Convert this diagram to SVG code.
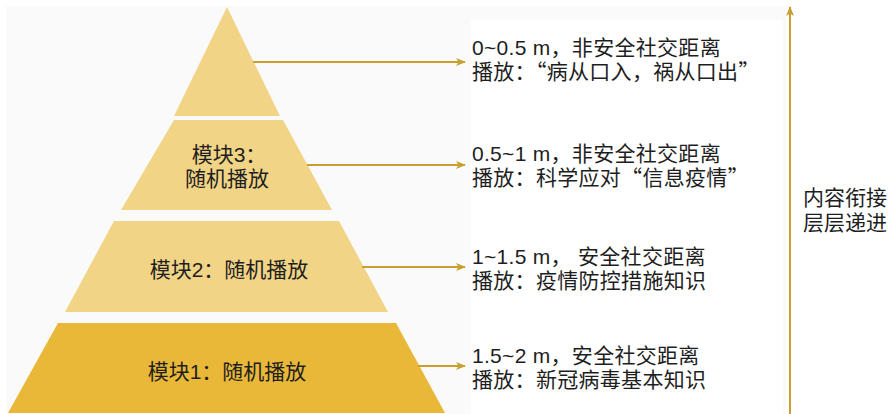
<svg xmlns="http://www.w3.org/2000/svg" width="890" height="414" viewBox="0 0 890 414">
  <style>
    .t { font-family: "Liberation Sans", "Noto Sans CJK SC", sans-serif; fill: #1e1e1e; }
    .lbl { font-size: 21px; letter-spacing: 0.3px; }
    .q { font-family: "Noto Sans CJK SC", sans-serif; }
    .side { font-size: 21px; }
    .pl { font-size: 21px; text-anchor: middle; }
    .light { fill: #F1D486; }
    .dark { fill: #E9B838; }
    .conn { stroke: #C9A030; stroke-width: 2; fill: none; }
  </style>
  <defs>
    <marker id="ah" viewBox="0 0 10 10" refX="9" refY="5" markerWidth="10" markerHeight="10" markerUnits="userSpaceOnUse" orient="auto">
      <path d="M0,1 L10,5 L0,9 L2.5,5 Z" fill="#C9A030"/>
    </marker>
  </defs>
  <rect x="0" y="0" width="890" height="414" fill="#ffffff"/>
  <rect x="6" y="6" width="780" height="408" fill="#fafafa"/>
  <rect x="471" y="20" width="312" height="394" fill="#ffffff"/>

  <g id="tier4">
    <polygon class="light" points="227,7 280,116 174,116"/>
  </g>
  <g id="tier3">
    <polygon class="light" points="174,120 283,120 332,210 121,210"/>
    <text class="t pl" x="229" y="162">模块3：</text>
    <text class="t pl" x="227" y="186">随机播放</text>
  </g>
  <g id="tier2">
    <polygon class="light" points="114,221 339,221 388,312 65,312"/>
    <text class="t pl" x="229" y="277">模块2：随机播放</text>
  </g>
  <g id="tier1">
    <polygon class="dark" points="58,323 396,323 445,413 8,413"/>
    <text class="t pl" x="227" y="379">模块1：随机播放</text>
  </g>

  <g id="connectors">
    <line class="conn" x1="253" y1="62" x2="465" y2="62" marker-end="url(#ah)"/>
    <line class="conn" x1="307" y1="165" x2="465" y2="165" marker-end="url(#ah)"/>
    <line class="conn" x1="362" y1="267" x2="465" y2="267" marker-end="url(#ah)"/>
    <line class="conn" x1="418" y1="366" x2="465" y2="366" marker-end="url(#ah)"/>
    <line class="conn" x1="790" y1="414" x2="790" y2="7" marker-end="url(#ah)"/>
  </g>

  <g id="desc4">
    <text class="t lbl" x="472" y="55">0~0.5 m，非安全社交距离</text>
    <text class="t lbl" x="472" y="79">播放：<tspan class="q">“</tspan>病从口入，祸从口出<tspan class="q">”</tspan></text>
  </g>
  <g id="desc3">
    <text class="t lbl" x="472" y="161">0.5~1 m，非安全社交距离</text>
    <text class="t lbl" x="472" y="185">播放：科学应对<tspan class="q">“</tspan>信息疫情<tspan class="q">”</tspan></text>
  </g>
  <g id="desc2">
    <text class="t lbl" x="472" y="264">1~1.5 m， 安全社交距离</text>
    <text class="t lbl" x="472" y="288">播放：疫情防控措施知识</text>
  </g>
  <g id="desc1">
    <text class="t lbl" x="472" y="363">1.5~2 m，安全社交距离</text>
    <text class="t lbl" x="472" y="387">播放：新冠病毒基本知识</text>
  </g>
  <g id="side">
    <text class="t side" x="803" y="205">内容衔接</text>
    <text class="t side" x="803" y="230">层层递进</text>
  </g>
</svg>
